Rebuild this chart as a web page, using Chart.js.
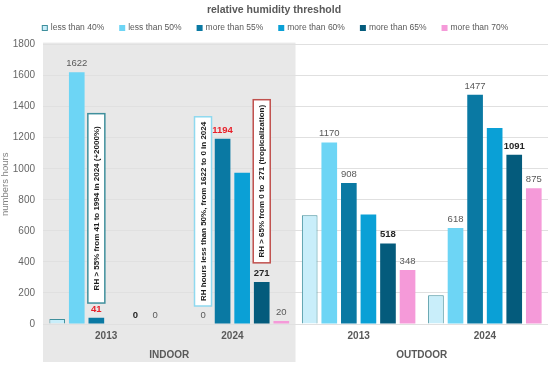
<!DOCTYPE html>
<html>
<head>
<meta charset="utf-8">
<script src="https://cdn.jsdelivr.net/npm/chart.js@4.4.1/dist/chart.umd.min.js"></script>
<style>
  html, body { margin: 0; padding: 0; background: #fff; }
  #wrap { width: 550px; height: 369px; }
</style>
</head>
<body>
<div id="wrap"><canvas id="rhChart"></canvas></div>
<script>
const categories = ['2013', '2024', '2013', '2024'];
const places = ['INDOOR', 'OUTDOOR'];
const seriesNames = ['less than 40%', 'less than 50%', 'more than 55%', 'more than 60%', 'more than 65%', 'more than 70%'];
const lessThan40 = [33, 0, 700, 185];
const lessThan50 = [1622, 0, 1170, 618];
const moreThan55 = [41, 1194, 908, 1477];
const moreThan60 = [0, 975, 705, 1262];
const moreThan65 = [0, 271, 518, 1091];
const moreThan70 = [0, 20, 348, 875];
const yMax = 1800;
const yStep = 200;

// rotated notes, anchored on a bar (series, category) between two y values
const notes = [
  { text: 'RH > 55% from 41 to 1994 in 2024 (+2000%)', series: 2, cat: 0, from: 135, to: 1355, color: '#3f8f9c' },
  { text: 'RH hours less than 50%, from 1622 to 0 in 2024', series: 1, cat: 1, from: 116, to: 1335, color: '#8fd9ef' },
  { text: 'RH > 65% from 0 to  271 (tropicalization)', series: 4, cat: 1, from: 394, to: 1445, color: '#c0504d' }
];

const FONT = "'Liberation Sans', Arial, sans-serif";

const datasets = [
  { label: seriesNames[0], data: lessThan40, backgroundColor: '#c9eefa', borderColor: '#3f8f9c', borderWidth: 1, valueStyle: null },
  { label: seriesNames[1], data: lessThan50, backgroundColor: '#6dd5f5', borderWidth: 0, valueStyle: ['plain', 'plain', 'plain', 'plain'] },
  { label: seriesNames[2], data: moreThan55, backgroundColor: '#0a79a3', borderWidth: 0, valueStyle: ['red', 'red', 'plain', 'plain'] },
  { label: seriesNames[3], data: moreThan60, backgroundColor: '#0aa0d6', borderWidth: 0, valueStyle: null },
  { label: seriesNames[4], data: moreThan65, backgroundColor: '#045b7c', borderWidth: 0, valueStyle: ['bold', 'bold', 'bold', 'bold'] },
  { label: seriesNames[5], data: moreThan70, backgroundColor: '#f59ad9', borderWidth: 0, valueStyle: ['plain', 'plain', 'plain', 'plain'] }
];

const indoorShade = {
  id: 'indoorShade',
  beforeDraw(chart) {
    const { ctx, chartArea, scales } = chart;
    const mid = (scales.x.getPixelForTick(1) + scales.x.getPixelForTick(2)) / 2;
    ctx.save();
    ctx.fillStyle = '#e8e8e8';
    ctx.fillRect(chartArea.left, chartArea.top - 2, mid - chartArea.left, scales.x2.bottom - 7 - chartArea.top + 2);
    ctx.restore();
  }
};

const valueLabels = {
  id: 'valueLabels',
  afterDatasetsDraw(chart) {
    const ctx = chart.ctx;
    ctx.save();
    ctx.textAlign = 'center';
    ctx.textBaseline = 'bottom';
    chart.data.datasets.forEach((ds, i) => {
      if (!ds.valueStyle) return;
      chart.getDatasetMeta(i).data.forEach((bar, j) => {
        const s = ds.valueStyle[j];
        if (s === 'red') { ctx.fillStyle = '#e8202a'; ctx.font = 'bold 9.5px ' + FONT; }
        else if (s === 'bold') { ctx.fillStyle = '#262626'; ctx.font = 'bold 9.5px ' + FONT; }
        else { ctx.fillStyle = '#595959'; ctx.font = '9.5px ' + FONT; }
        ctx.fillText(String(ds.data[j]), bar.x, bar.y - 4);
      });
    });
    ctx.restore();
  }
};

const noteBoxes = {
  id: 'noteBoxes',
  afterDatasetsDraw(chart) {
    const ctx = chart.ctx;
    const y = chart.scales.y;
    ctx.save();
    notes.forEach(n => {
      const bar = chart.getDatasetMeta(n.series).data[n.cat];
      const top = y.getPixelForValue(n.to);
      const bottom = y.getPixelForValue(n.from);
      const w = 17;
      ctx.fillStyle = '#ffffff';
      ctx.fillRect(bar.x - w / 2, top, w, bottom - top);
      ctx.strokeStyle = n.color;
      ctx.lineWidth = 1.5;
      ctx.strokeRect(bar.x - w / 2, top, w, bottom - top);
      ctx.translate(bar.x, (top + bottom) / 2);
      ctx.rotate(-Math.PI / 2);
      ctx.fillStyle = '#1a1a1a';
      ctx.font = 'bold 8px ' + FONT;
      ctx.textAlign = 'center';
      ctx.textBaseline = 'middle';
      ctx.fillText(n.text, 0, 0.5);
      ctx.setTransform(1, 0, 0, 1, 0, 0);
    });
    ctx.restore();
  }
};

const legendRow = {
  id: 'legendRow',
  afterDraw(chart) {
    const ctx = chart.ctx;
    ctx.save();
    ctx.font = '8.5px ' + FONT;
    ctx.textBaseline = 'middle';
    const box = 6, gap = 3, space = 15;
    const widths = chart.data.datasets.map(d => box + gap + ctx.measureText(d.label).width);
    const total = widths.reduce((a, b) => a + b, 0) + space * (widths.length - 1);
    let x = (chart.width - total) / 2;
    const yc = 28;
    chart.data.datasets.forEach((d, i) => {
      ctx.fillStyle = d.backgroundColor;
      ctx.fillRect(x, yc - box / 2, box, box);
      if (d.borderWidth) {
        ctx.strokeStyle = d.borderColor;
        ctx.lineWidth = 1;
        ctx.strokeRect(x + 0.5, yc - box / 2 + 0.5, box - 1, box - 1);
      }
      ctx.fillStyle = '#595959';
      ctx.fillText(d.label, x + box + gap, yc);
      x += widths[i] + space;
    });
    ctx.restore();
  }
};

new Chart(document.getElementById('rhChart').getContext('2d'), {
  type: 'bar',
  data: { labels: categories, datasets: datasets },
  plugins: [indoorShade, valueLabels, noteBoxes, legendRow],
  options: {
    responsive: true,
    maintainAspectRatio: false,
    animation: false,
    datasets: { bar: { categoryPercentage: 0.93, barPercentage: 0.8 } },
    layout: { padding: { right: 2 } },
    plugins: {
      legend: { display: false },
      tooltip: { enabled: false },
      title: {
        display: true,
        text: 'relative humidity threshold',
        color: '#595959',
        font: { family: FONT, size: 10.5, weight: 'bold' },
        padding: { top: 4, bottom: 28 }
      }
    },
    scales: {
      x: {
        type: 'category',
        grid: { display: false, drawTicks: false },
        border: { display: false },
        ticks: { color: '#595959', font: { family: FONT, size: 10, weight: 'bold' }, padding: 6 },
        afterFit(s) { s.height = 22; }
      },
      x2: {
        type: 'category',
        labels: places,
        position: 'bottom',
        grid: { display: false, drawTicks: false },
        border: { display: false },
        ticks: { color: '#595959', font: { family: FONT, size: 10, weight: 'bold' }, padding: 3 },
        afterFit(s) { s.height = 23; }
      },
      y: {
        min: 0,
        max: yMax,
        ticks: { stepSize: yStep, color: '#666666', font: { family: FONT, size: 10 }, padding: 8, callback: v => String(v) },
        grid: { color: '#e0e0e0', drawTicks: false },
        border: { display: false },
        title: { display: true, text: 'numbers hours', color: '#7f7f7f', font: { family: FONT, size: 9.5 }, padding: 0 },
        afterFit(s) { s.width = 43; }
      }
    }
  }
});
</script>
</body>
</html>
